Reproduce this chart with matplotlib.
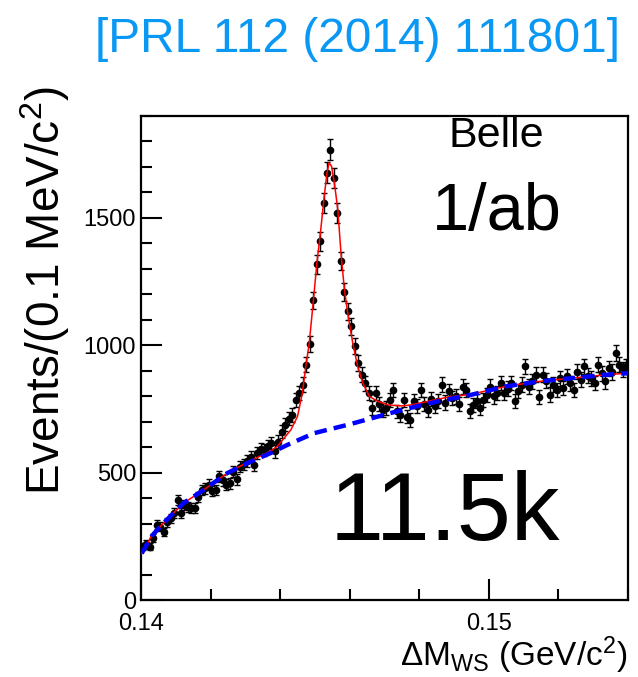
import numpy as np
import matplotlib
matplotlib.use('Agg')
import matplotlib.pyplot as plt
from matplotlib.ticker import MultipleLocator

plt.rcParams['font.family'] = ['Liberation Sans', 'DejaVu Sans']
plt.rcParams['mathtext.fontset'] = 'custom'
plt.rcParams['mathtext.rm'] = 'Liberation Sans'
plt.rcParams['mathtext.it'] = 'Liberation Sans'

# bin centres, 0.1 MeV bins starting at 0.14 GeV
bin_lo = 0.14
bin_w = 0.0001
counts = [209, 220, 209, 242, 295, 288, 268, 305, 321, 341,
          393, 341, 373, 365, 360, 362, 405, 432, 438, 452,
          428, 432, 485, 470, 452, 459, 504, 474, 524, 532,
          544, 563, 531, 577, 592, 588, 603, 616, 583, 622,
          661, 688, 712, 727, 785, 812, 845, 924, 1006, 1176,
          1317, 1408, 1559, 1677, 1768, 1657, 1520, 1330, 1208, 1133,
          1074, 996, 930, 884, 850, 812, 753, 812, 770, 747,
          753, 786, 825, 740, 727, 786, 720, 707, 780, 760,
          825, 770, 747, 790, 760, 780, 845, 775, 819, 793,
          799, 770, 838, 825, 742, 765, 780, 753, 786, 805,
          838, 799, 812, 852, 812, 830, 852, 780, 820, 845,
          917, 838, 858, 884, 796, 885, 860, 806, 845, 825,
          870, 832, 878, 850, 825, 897, 865, 917, 880, 871,
          852, 924, 890, 858, 910, 895, 970, 924, 905, 917]

# background (blue dashed)
bkg_x = [0.14002, 0.14030, 0.14064, 0.14122, 0.14180, 0.14248, 0.14305,
         0.14373, 0.14421, 0.14498, 0.14595, 0.14681, 0.14758, 0.14855,
         0.14951, 0.15047, 0.15144, 0.15240, 0.15336, 0.15404]
bkg_y = [183, 250, 301, 380, 432, 498, 537,
         577, 609, 655, 688, 720, 749, 780,
         806, 838, 858, 871, 884, 891]

# total fit (red)
fit_x = [0.14002, 0.14030, 0.14064, 0.14122, 0.14180, 0.14248, 0.14305,
         0.14373, 0.14392, 0.14431, 0.14450, 0.14464, 0.14474, 0.14484,
         0.14496, 0.14506, 0.14517, 0.14527, 0.14535, 0.14541, 0.14548,
         0.14556, 0.14566, 0.14575, 0.14585, 0.14596, 0.14609, 0.14623,
         0.14638, 0.14657, 0.14681, 0.14710, 0.14749, 0.14777, 0.14826,
         0.14884, 0.14951, 0.15047, 0.15144, 0.15240, 0.15336, 0.15404]
fit_y = [183, 250, 301, 380, 432, 498, 540,
         585, 603, 668, 720, 812, 917, 1010,
         1179, 1324, 1454, 1585, 1677, 1716, 1703,
         1638, 1533, 1364, 1218, 1113, 1009, 917,
         852, 799, 780, 766, 762, 766, 780,
         797, 808, 838, 858, 871, 884, 891]

x = bin_lo + bin_w * (np.arange(len(counts)) + 0.5)
y = np.array(counts)
yerr = np.sqrt(y)

fig = plt.figure(figsize=(6.38, 6.77), dpi=100)
ax = fig.add_axes([0.221, 0.1137, 0.763, 0.715])

ax.errorbar(x, y, yerr=yerr, fmt='o', color='black', markersize=4.5,
            elinewidth=1.0, capsize=2.5, capthick=1.0, zorder=2)
ax.plot(fit_x, fit_y, color='red', lw=1.1, zorder=3)
ax.plot(bkg_x, bkg_y, color='#0000ff', lw=3.2, ls=(0, (2.8, 1.6)), zorder=4)

ax.set_xlim(0.14, 0.154)
ax.set_ylim(0, 1900)
ax.xaxis.set_major_locator(MultipleLocator(0.01))
ax.xaxis.set_minor_locator(MultipleLocator(0.002))
ax.yaxis.set_major_locator(MultipleLocator(500))
ax.yaxis.set_minor_locator(MultipleLocator(100))
ax.tick_params(which='both', direction='in', top=False, right=False,
               labelsize=17, width=1.5)
ax.tick_params(which='major', length=15)
ax.tick_params(which='minor', length=8)
ax.tick_params(axis='x', pad=9)
for s in ax.spines.values():
    s.set_linewidth(1.6)

ax.set_ylabel('Events/(0.1 MeV/c$^{2}$)', fontsize=33)
ax.yaxis.set_label_coords(-0.142, 0.64)
ax.set_xlabel(r'$\Delta$M$_{\mathrm{WS}}$ (GeV/c$^{2}$)', fontsize=24,
              loc='right', labelpad=0)

ax.text(0.73, 1.0, 'Belle', transform=ax.transAxes, fontsize=31,
        ha='center', va='top')
ax.text(0.73, 0.80, '1/ab', transform=ax.transAxes, fontsize=48,
        ha='center', va='center')
ax.text(0.625, 0.176, '11.5k', transform=ax.transAxes, fontsize=70,
        ha='center', va='center')

fig.text(0.561, 0.941, '[PRL 112 (2014) 111801]', fontsize=34.5,
         color='#0a98f5', ha='center', va='center')

fig.savefig('out.png', dpi=100)
